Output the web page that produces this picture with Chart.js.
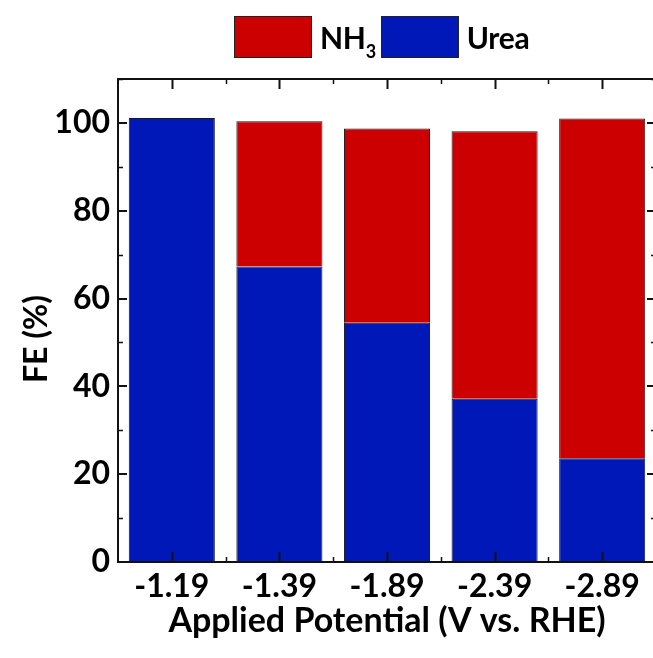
<!DOCTYPE html>
<html>
<head>
<meta charset="utf-8">
<title>FE vs applied potential</title>
<script src="https://cdn.jsdelivr.net/npm/chart.js@4.4.1/dist/chart.umd.min.js"></script>
<style>
  html, body { margin: 0; padding: 0; background: #fff; overflow: hidden; }
  #wrap { position: relative; width: 658px; height: 658px; }
  #legend {
    position: absolute; top: 16px; left: 234px;
    display: flex; align-items: center;
    font-family: Lato, sans-serif; font-weight: bold; font-size: 30px; color: #000;
  }
  #legend .item { display: flex; align-items: center; }
  #legend .swatch { width: 78px; height: 42px; box-sizing: border-box; border: 1px solid #222; }
  #legend .name { margin: 0 5px 0 8px; letter-spacing: -0.3px; }
  #legend sub { font-size: 18px; vertical-align: -9px; line-height: 0; }
</style>
</head>
<body>
<div id="wrap">
  <canvas id="feChart" width="658" height="658"></canvas>
  <div id="legend"></div>
</div>
<script>
// applied potential (V vs. RHE) and faradaic efficiencies (%)
const potentials = ['-1.19', '-1.39', '-1.89', '-2.39', '-2.89'];
const ureaFE = [101.1, 67.3, 54.5, 37.2, 23.6];
const nh3FE = [0, 33.1, 44.2, 60.9, 77.4];
const yTicks = [0, 20, 40, 60, 80, 100];

const RED = '#cc0000';
const BLUE = '#0018b8';
const FONT = 'Lato, sans-serif';

// box round the plot, inward ticks on all four sides, rotated y title
const frame = {
    id: 'frame',
    afterDraw(chart) {
        const { ctx, chartArea: a, scales: { x, y } } = chart;
        ctx.save();
        ctx.strokeStyle = '#111';

        // y ticks, majors on labels, minors halfway
        yTicks.forEach(v => {
            const py = Math.round(y.getPixelForValue(v));
            ctx.lineWidth = 2;
            ctx.beginPath();
            ctx.moveTo(a.left, py); ctx.lineTo(a.left + 9, py);
            ctx.moveTo(a.right, py); ctx.lineTo(a.right - 9, py);
            ctx.stroke();
            const pm = Math.round(y.getPixelForValue(v + 10)) + 0.5;
            ctx.lineWidth = 1.5;
            ctx.beginPath();
            ctx.moveTo(a.left, pm); ctx.lineTo(a.left + 5, pm);
            ctx.moveTo(a.right, pm); ctx.lineTo(a.right - 5, pm);
            ctx.stroke();
        });

        // x ticks: centre of each category and the gaps between them
        potentials.forEach((p, i) => {
            const px = Math.round(x.getPixelForValue(i)) + 0.5;
            ctx.lineWidth = 2;
            ctx.beginPath();
            ctx.moveTo(px, a.bottom); ctx.lineTo(px, a.bottom - 10);
            ctx.moveTo(px, a.top); ctx.lineTo(px, a.top + 10);
            ctx.stroke();
            if (i > 0) {
                const pb = Math.round((x.getPixelForValue(i) + x.getPixelForValue(i - 1)) / 2) + 0.5;
                ctx.lineWidth = 1.5;
                ctx.beginPath();
                ctx.moveTo(pb, a.bottom); ctx.lineTo(pb, a.bottom - 5);
                ctx.moveTo(pb, a.top); ctx.lineTo(pb, a.top + 5);
                ctx.stroke();
            }
        });

        ctx.lineWidth = 2;
        ctx.strokeRect(Math.round(a.left), Math.round(a.top), Math.round(a.right - a.left), Math.round(a.bottom - a.top));

        // y axis title
        ctx.translate(37, 339);
        ctx.rotate(-Math.PI / 2);
        ctx.fillStyle = '#000';
        ctx.font = 'bold 32px ' + FONT;
        ctx.textAlign = 'center';
        ctx.textBaseline = 'middle';
        ctx.fillText('FE (%)', 0, 0);
        ctx.restore();
    }
};

const chart = new Chart(document.getElementById('feChart'), {
    type: 'bar',
    data: {
        labels: potentials,
        datasets: [
            { label: 'Urea', data: ureaFE, backgroundColor: BLUE },
            { label: 'NH3', data: nh3FE, backgroundColor: RED }
        ]
    },
    options: {
        responsive: false,
        animation: false,
        devicePixelRatio: 1,
        datasets: {
            bar: {
                borderColor: '#1a1a1a',
                borderWidth: 1,
                barPercentage: 0.8,
                categoryPercentage: 1.0
            }
        },
        layout: { padding: { top: 79, right: 2, bottom: 0, left: 0 } },
        plugins: {
            legend: { display: false },
            tooltip: { enabled: false }
        },
        scales: {
            x: {
                stacked: true,
                grid: { display: false, drawTicks: false },
                border: { display: false },
                ticks: {
                    color: '#000',
                    font: { family: FONT, weight: 'bold', size: 32 },
                    padding: 5,
                    maxRotation: 0
                },
                title: {
                    display: true,
                    text: 'Applied Potential (V vs. RHE)',
                    color: '#000',
                    font: { family: FONT, weight: 'bold', size: 34 },
                    padding: { top: 0, bottom: 17 }
                },
                afterFit: s => { s.height = 96; }
            },
            y: {
                stacked: true,
                min: 0,
                max: 110,
                grid: { display: false, drawTicks: false },
                border: { display: false },
                ticks: {
                    color: '#000',
                    font: { family: FONT, weight: 'bold', size: 32 },
                    padding: 8
                },
                afterBuildTicks: s => { s.ticks = yTicks.map(v => ({ value: v })); },
                afterFit: s => { s.width = 118; }
            }
        }
    },
    plugins: [frame]
});

// legend above the plot, NH3 first as in the stack top-down
const legend = document.getElementById('legend');
legend.innerHTML = chart.data.datasets.slice().reverse().map(ds => `
    <div class="item">
        <span class="swatch" style="background:${ds.backgroundColor}"></span>
        <span class="name">${ds.label.replace(/(\d+)/g, '<sub>$1</sub>')}</span>
    </div>`).join('');
</script>
</body>
</html>
